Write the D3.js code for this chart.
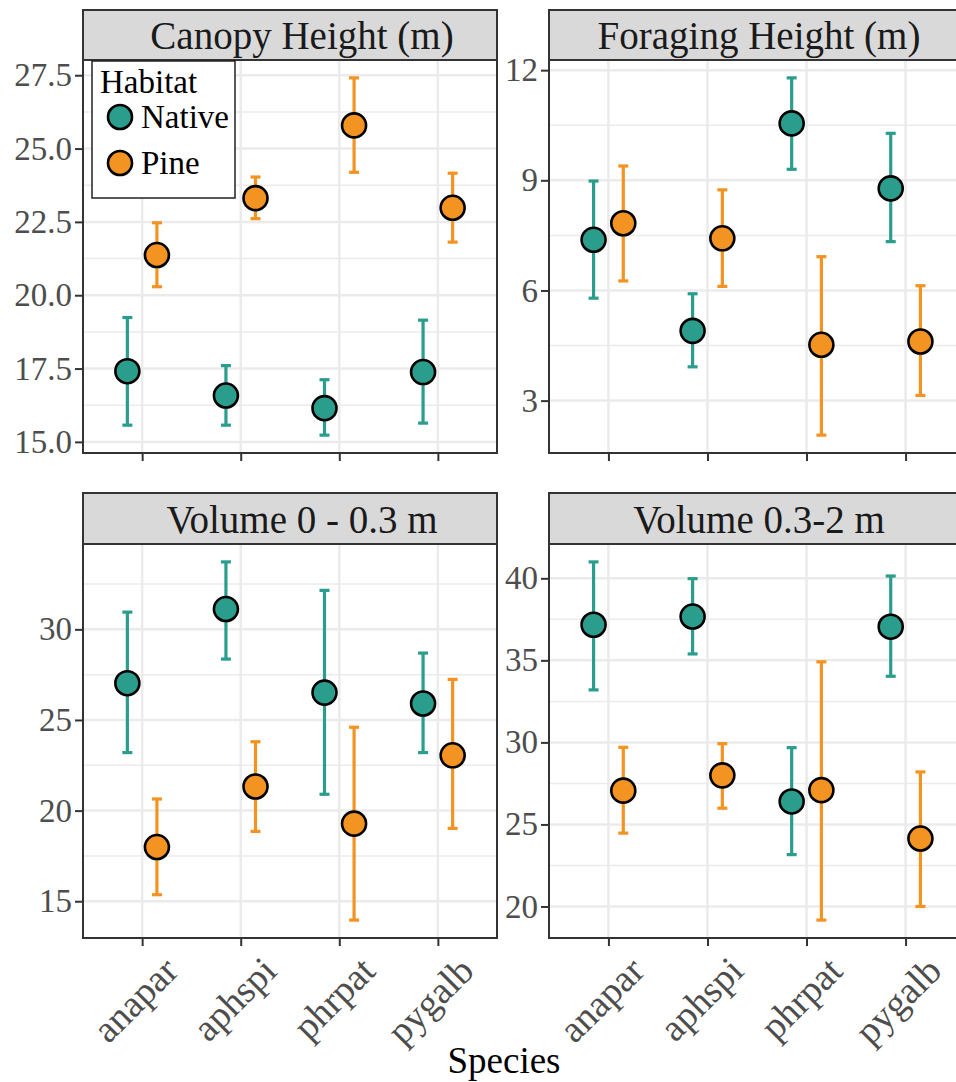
<!DOCTYPE html>
<html>
<head>
<meta charset="utf-8">
<script src="https://cdn.jsdelivr.net/npm/d3@7"></script>
<style>
  body { margin: 0; background: #fff; }
  svg { display: block; }
</style>
</head>
<body>
<svg id="chart"></svg>
<script>
// categories
const species = ['anapar', 'aphspi', 'phrpat', 'pygalb'];
const habitats = ['Native', 'Pine'];
const habitatColors = ['#2a9d8c', '#f29322'];

// Canopy Height (m)
const canopyNativeMean = [17.41, 16.58, 16.15, 17.38];
const canopyNativeLo   = [15.57, 15.57, 15.23, 15.64];
const canopyNativeHi   = [19.24, 17.60, 17.12, 19.15];
const canopyPineMean   = [21.37, 23.31, 25.79, 22.98];
const canopyPineLo     = [20.29, 22.61, 24.19, 21.81];
const canopyPineHi     = [22.47, 24.03, 27.41, 24.16];
const canopyTicks = [15, 17.5, 20, 22.5, 25, 27.5];

// Foraging Height (m)
const foragingNativeMean = [7.38, 4.90, 10.55, 8.78];
const foragingNativeLo   = [5.79, 3.92, 9.30, 7.33];
const foragingNativeHi   = [8.98, 5.91, 11.79, 10.28];
const foragingPineMean   = [7.83, 7.42, 4.52, 4.61];
const foragingPineLo     = [6.26, 6.11, 2.06, 3.14];
const foragingPineHi     = [9.39, 8.74, 6.92, 6.13];
const foragingTicks = [3, 6, 9, 12];

// Volume 0 - 0.3 m
const vol03NativeMean = [27.03, 31.12, 26.51, 25.91];
const vol03NativeLo   = [23.20, 28.36, 20.90, 23.20];
const vol03NativeHi   = [30.95, 33.72, 32.15, 28.69];
const vol03PineMean   = [17.99, 21.33, 19.28, 23.05];
const vol03PineLo     = [15.36, 18.85, 13.96, 19.02];
const vol03PineHi     = [20.64, 23.80, 24.60, 27.24];
const vol03Ticks = [15, 20, 25, 30];

// Volume 0.3-2 m
const vol2NativeMean = [37.17, 37.67, 26.40, 37.05];
const vol2NativeLo   = [33.20, 35.39, 23.16, 34.03];
const vol2NativeHi   = [41.00, 39.98, 29.68, 40.14];
const vol2PineMean   = [27.06, 27.99, 27.09, 24.14];
const vol2PineLo     = [24.47, 25.99, 19.17, 20.00];
const vol2PineHi     = [29.70, 29.92, 34.91, 28.20];
const vol2Ticks = [20, 25, 30, 35, 40];

function rows(mean, lo, hi) {
  return mean.map((m, i) => ({ species: species[i], mean: m, lo: lo[i], hi: hi[i] }));
}

const panels = [
  { title: 'Canopy Height (m)', col: 0, row: 0, ticks: canopyTicks, fmt: d3.format('.1f'),
    series: [rows(canopyNativeMean, canopyNativeLo, canopyNativeHi), rows(canopyPineMean, canopyPineLo, canopyPineHi)] },
  { title: 'Foraging Height (m)', col: 1, row: 0, ticks: foragingTicks, fmt: d3.format('d'),
    series: [rows(foragingNativeMean, foragingNativeLo, foragingNativeHi), rows(foragingPineMean, foragingPineLo, foragingPineHi)] },
  { title: 'Volume 0 - 0.3 m', col: 0, row: 1, ticks: vol03Ticks, fmt: d3.format('d'),
    series: [rows(vol03NativeMean, vol03NativeLo, vol03NativeHi), rows(vol03PineMean, vol03PineLo, vol03PineHi)] },
  { title: 'Volume 0.3-2 m', col: 1, row: 1, ticks: vol2Ticks, fmt: d3.format('d'),
    series: [rows(vol2NativeMean, vol2NativeLo, vol2NativeHi), rows(vol2PineMean, vol2PineLo, vol2PineHi)] },
];

const W = 956, H = 1082;
const font = '"Liberation Serif", "Times New Roman", serif';
const cols = [{ x0: 83, x1: 497, titleX: 302 }, { x0: 549, x1: 965, titleX: 759 }];
const rowsLayout = [{ stripTop: 10, top: 60, bottom: 453 }, { stripTop: 493, top: 544, bottom: 938 }];

const svg = d3.select('#chart').attr('width', W).attr('height', H);
svg.append('rect').attr('width', W).attr('height', H).attr('fill', '#fff');

panels.forEach((p) => {
  const c = cols[p.col], r = rowsLayout[p.row];
  const all = p.series.flat();
  const lo = d3.min(all, (d) => d.lo), hi = d3.max(all, (d) => d.hi);
  const pad = (hi - lo) * 0.05;

  const x = d3.scalePoint().domain(species).range([c.x0, c.x1]).padding(0.6);
  const y = d3.scaleLinear().domain([lo - pad, hi + pad]).range([r.bottom, r.top]);
  const dodge = x.step() * 0.15;

  const g = svg.append('g');

  // minor gridlines
  const minor = d3.pairs(p.ticks).map(([a, b]) => (a + b) / 2);
  const step = p.ticks[1] - p.ticks[0];
  minor.push(p.ticks[0] - step / 2, p.ticks[p.ticks.length - 1] + step / 2);
  g.selectAll('line.minor')
    .data(minor.filter((v) => v > y.domain()[0] && v < y.domain()[1]))
    .join('line')
    .attr('x1', c.x0).attr('x2', c.x1)
    .attr('y1', (d) => y(d)).attr('y2', (d) => y(d))
    .attr('stroke', '#ebebeb').attr('stroke-width', 1.5);

  // major gridlines
  g.selectAll('line.majory')
    .data(p.ticks)
    .join('line')
    .attr('x1', c.x0).attr('x2', c.x1)
    .attr('y1', (d) => y(d)).attr('y2', (d) => y(d))
    .attr('stroke', '#ebebeb').attr('stroke-width', 2.5);
  g.selectAll('line.majorx')
    .data(species)
    .join('line')
    .attr('x1', (d) => x(d)).attr('x2', (d) => x(d))
    .attr('y1', r.top).attr('y2', r.bottom)
    .attr('stroke', '#ebebeb').attr('stroke-width', 2.5);

  // error bars and points
  p.series.forEach((ser, hi_) => {
    const off = hi_ === 0 ? -dodge : dodge;
    const color = habitatColors[hi_];
    const eb = g.append('g');
    eb.selectAll('line.v')
      .data(ser).join('line')
      .attr('x1', (d) => x(d.species) + off).attr('x2', (d) => x(d.species) + off)
      .attr('y1', (d) => y(d.lo)).attr('y2', (d) => y(d.hi))
      .attr('stroke', color).attr('stroke-width', 3.2);
    ['lo', 'hi'].forEach((k) => {
      eb.selectAll('line.cap' + k)
        .data(ser).join('line')
        .attr('x1', (d) => x(d.species) + off - 5).attr('x2', (d) => x(d.species) + off + 5)
        .attr('y1', (d) => y(d[k])).attr('y2', (d) => y(d[k]))
        .attr('stroke', color).attr('stroke-width', 3.2);
    });
  });
  p.series.forEach((ser, hi_) => {
    const off = hi_ === 0 ? -dodge : dodge;
    g.append('g').selectAll('circle')
      .data(ser).join('circle')
      .attr('cx', (d) => x(d.species) + off)
      .attr('cy', (d) => y(d.mean))
      .attr('r', 12)
      .attr('fill', habitatColors[hi_])
      .attr('stroke', '#000').attr('stroke-width', 2.6);
  });

  // panel border
  g.append('rect')
    .attr('x', c.x0).attr('y', r.top)
    .attr('width', c.x1 - c.x0).attr('height', r.bottom - r.top)
    .attr('fill', 'none').attr('stroke', '#333').attr('stroke-width', 2);

  // strip
  g.append('rect')
    .attr('x', c.x0).attr('y', r.stripTop)
    .attr('width', c.x1 - c.x0).attr('height', r.top - r.stripTop)
    .attr('fill', '#d9d9d9').attr('stroke', '#333').attr('stroke-width', 2);
  g.append('text')
    .attr('x', c.titleX).attr('y', (r.stripTop + r.top) / 2)
    .attr('dy', '0.36em')
    .attr('text-anchor', 'middle')
    .attr('font-family', font).attr('font-size', 39)
    .attr('fill', '#1a1a1a')
    .text(p.title);

  // y axis
  const yAxis = g.append('g')
    .attr('transform', `translate(${c.x0},0)`)
    .call(d3.axisLeft(y).tickValues(p.ticks).tickFormat(p.fmt).tickSize(8).tickPadding(3));
  yAxis.select('.domain').remove();
  yAxis.selectAll('line').attr('stroke', '#333').attr('stroke-width', 2);
  yAxis.selectAll('text')
    .attr('font-family', font).attr('font-size', 33).attr('fill', '#4d4d4d');

  // x axis ticks
  const xAxis = g.append('g')
    .attr('transform', `translate(0,${r.bottom})`)
    .call(d3.axisBottom(x).tickSize(8).tickFormat(''));
  xAxis.select('.domain').remove();
  xAxis.selectAll('line').attr('stroke', '#333').attr('stroke-width', 2);

  if (p.row === 1) {
    g.selectAll('text.xlab')
      .data(species).join('text')
      .attr('class', 'xlab')
      .attr('transform', (d) => `translate(${x(d) + 38},${r.bottom + 35}) rotate(-45)`)
      .attr('text-anchor', 'end')
      .attr('font-family', font).attr('font-size', 38)
      .attr('fill', '#4d4d4d')
      .text((d) => d);
  }
});

// axis title
svg.append('text')
  .attr('x', 504).attr('y', 1073)
  .attr('text-anchor', 'middle')
  .attr('font-family', font).attr('font-size', 37)
  .attr('fill', '#000')
  .text('Species');

// legend inside first panel
const legend = svg.append('g');
legend.append('rect')
  .attr('x', 92).attr('y', 61).attr('width', 143).attr('height', 137)
  .attr('fill', '#fff').attr('stroke', '#222').attr('stroke-width', 1.5);
legend.append('text')
  .attr('x', 100).attr('y', 93)
  .attr('font-family', font).attr('font-size', 33).attr('fill', '#000')
  .text('Habitat');
const keys = legend.selectAll('g.key')
  .data(habitats).join('g')
  .attr('transform', (d, i) => `translate(0,${117 + i * 46})`);
keys.append('circle')
  .attr('cx', 120).attr('cy', 0).attr('r', 12)
  .attr('fill', (d, i) => habitatColors[i])
  .attr('stroke', '#000').attr('stroke-width', 2.6);
keys.append('text')
  .attr('x', 141).attr('y', 11)
  .attr('font-family', font).attr('font-size', 33).attr('fill', '#000')
  .text((d) => d);
</script>
</body>
</html>
